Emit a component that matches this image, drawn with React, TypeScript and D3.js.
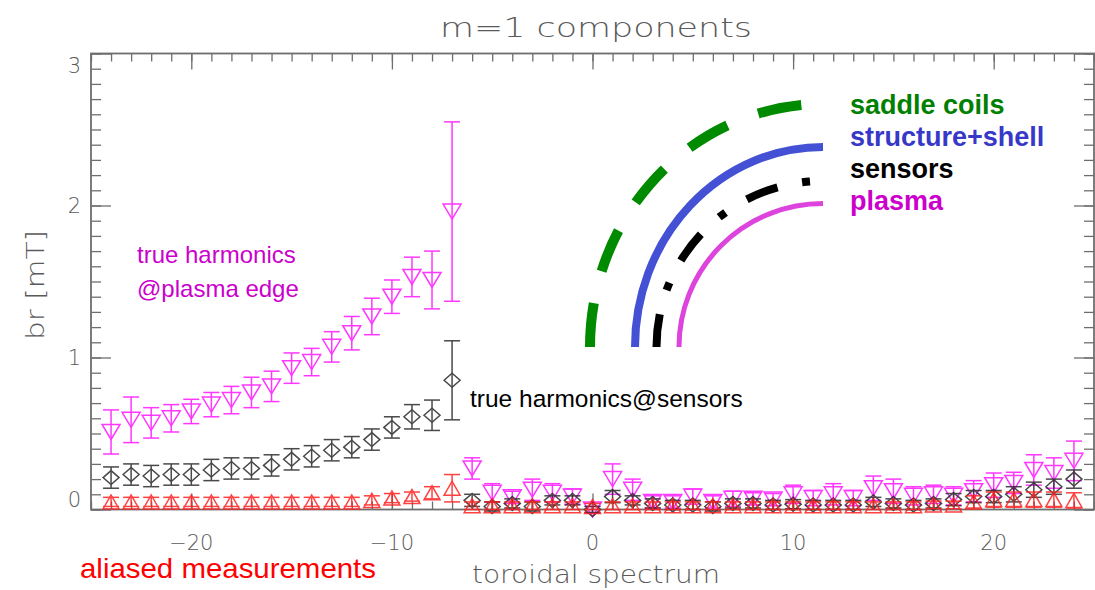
import React, { useEffect, useRef } from 'react'
import * as d3 from 'd3'

// toroidal mode numbers n
const harmonicN = [-24, -23, -22, -21, -20, -19, -18, -17, -16, -15, -14, -13, -12, -11, -10, -9, -8, -7,
  -6, -5, -4, -3, -2, -1, 0, 1, 2, 3, 4, 5, 6, 7, 8, 9, 10, 11, 12, 13, 14, 15, 16, 17, 18, 19, 20, 21, 22, 23, 24]

// true harmonics @ plasma edge (magenta, triangle down)
const plasmaBr = [0.51, 0.59, 0.57, 0.60, 0.645, 0.69, 0.72, 0.77, 0.81, 0.93, 0.97, 1.07, 1.16, 1.27, 1.40, 1.53, 1.51, 1.96,
  0.27, 0.11, 0.08, 0.13, 0.11, 0.085, 0.0, 0.20, 0.13, 0.05, 0.05, 0.085, 0.05, 0.07, 0.07, 0.065, 0.10, 0.075, 0.10, 0.075,
  0.14, 0.12, 0.09, 0.10, 0.09, 0.12, 0.16, 0.175, 0.26, 0.24, 0.32]
const plasmaErr = [0.145, 0.15, 0.1, 0.09, 0.08, 0.08, 0.09, 0.1, 0.1, 0.1, 0.09, 0.1, 0.11, 0.12, 0.11, 0.13, 0.19, 0.59,
  0.07, 0.06, 0.04, 0.07, 0.06, 0.05, 0.02, 0.1, 0.07, 0.04, 0.04, 0.05, 0.04, 0.05, 0.04, 0.04, 0.06, 0.05, 0.07, 0.05,
  0.08, 0.08, 0.06, 0.06, 0.06, 0.07, 0.08, 0.07, 0.1, 0.1, 0.13]

// true harmonics @ sensors (black, diamond)
const sensorBr = [0.21, 0.23, 0.22, 0.23, 0.23, 0.26, 0.27, 0.27, 0.29, 0.33, 0.35, 0.39, 0.41, 0.46, 0.54, 0.61, 0.62, 0.85,
  0.06, 0.02, 0.04, 0.02, 0.06, 0.06, 0.0, 0.085, 0.06, 0.04, 0.03, 0.03, 0.02, 0.04, 0.04, 0.03, 0.035, 0.03, 0.03, 0.03,
  0.05, 0.04, 0.03, 0.04, 0.065, 0.085, 0.085, 0.10, 0.13, 0.15, 0.20]
const sensorErr = [0.07, 0.07, 0.07, 0.07, 0.07, 0.07, 0.07, 0.07, 0.07, 0.07, 0.07, 0.07, 0.07, 0.07, 0.07, 0.08, 0.1, 0.26,
  0.04, 0.03, 0.03, 0.03, 0.03, 0.03, 0.02, 0.04, 0.03, 0.03, 0.03, 0.03, 0.03, 0.03, 0.03, 0.03, 0.03, 0.03, 0.03, 0.03,
  0.03, 0.03, 0.03, 0.03, 0.04, 0.04, 0.04, 0.05, 0.05, 0.05, 0.06]

// aliased measurements (red, triangle up)
const aliasBr = [0.05, 0.05, 0.05, 0.05, 0.05, 0.05, 0.05, 0.05, 0.05, 0.05, 0.05, 0.05, 0.05, 0.06, 0.075, 0.085, 0.11, 0.14,
  0.025, 0.025, 0.025, 0.025, 0.025, 0.025, 0.02, 0.025, 0.025, 0.025, 0.025, 0.025, 0.025, 0.025, 0.025, 0.025, 0.025, 0.025, 0.025, 0.025,
  0.025, 0.025, 0.025, 0.03, 0.03, 0.05, 0.065, 0.065, 0.065, 0.065, 0.06]
const aliasErr = [0.03, 0.03, 0.03, 0.03, 0.03, 0.03, 0.03, 0.03, 0.03, 0.03, 0.03, 0.03, 0.03, 0.03, 0.03, 0.03, 0.04, 0.09,
  0.025, 0.025, 0.025, 0.025, 0.025, 0.025, 0.02, 0.025, 0.025, 0.025, 0.025, 0.025, 0.025, 0.025, 0.025, 0.025, 0.025, 0.025, 0.025, 0.025,
  0.025, 0.025, 0.025, 0.025, 0.025, 0.04, 0.05, 0.05, 0.05, 0.05, 0.05]

const xTickValues = [-20, -10, 0, 10, 20]
const xTickLabels = ['\u221220', '\u221210', '0', '10', '20']
const yTickValues = [0, 1, 2, 3]
const yTickLabels = ['0', '1', '2', '3']

const legendNames = ['saddle coils', 'structure+shell', 'sensors', 'plasma']

export default function App() {
  const ref = useRef<SVGSVGElement>(null)

  useEffect(() => {
    const svg = d3.select(ref.current)
    svg.selectAll('*').remove()

    const left = 91, right = 1094, top = 53.5, bottom = 509.5
    const x = d3.scaleLinear().domain([-25, 25]).range([left, right])
    const y = d3.scaleLinear().domain([0, 3]).range([bottom, top])

    const axisColor = '#6e6e6e'
    const idlFont = "'DejaVu Sans', sans-serif"
    const arial = "'Liberation Sans', Arial, sans-serif"

    // ticks (IDL style, on all four sides)
    const minorX = d3.range(-25, 26)
    const minorY = d3.range(0, 31).map(i => i / 10)

    const addAxis = (axis, tx, ty) => {
      svg.append('g')
        .attr('transform', `translate(${tx},${ty})`)
        .call(axis)
        .call(g => g.select('.domain').remove())
        .call(g => g.selectAll('line').attr('stroke', axisColor).attr('stroke-width', 1.3))
        .call(g => g.selectAll('text').remove())
    }
    addAxis(d3.axisLeft(y).tickValues(minorY).tickSize(-10), left, 0)
    addAxis(d3.axisLeft(y).tickValues(yTickValues).tickSize(-20), left, 0)
    addAxis(d3.axisRight(y).tickValues(minorY).tickSize(-10), right, 0)
    addAxis(d3.axisRight(y).tickValues(yTickValues).tickSize(-20), right, 0)
    addAxis(d3.axisTop(x).tickValues(minorX).tickSize(-8), 0, top)
    addAxis(d3.axisTop(x).tickValues(xTickValues).tickSize(-16), 0, top)
    addAxis(d3.axisBottom(x).tickValues(minorX).tickSize(-8), 0, bottom)
    addAxis(d3.axisBottom(x).tickValues(xTickValues).tickSize(-16), 0, bottom)

    svg.append('rect')
      .attr('x', left).attr('y', top)
      .attr('width', right - left).attr('height', bottom - top)
      .attr('fill', 'none').attr('stroke', axisColor).attr('stroke-width', 1.8)

    // tick labels
    svg.append('g').selectAll('text')
      .data(yTickValues)
      .enter().append('text')
      .attr('x', 81)
      .attr('y', d => Math.min(Math.max(y(d), top + 12), bottom - 10))
      .attr('dy', '0.36em')
      .attr('text-anchor', 'end')
      .style('font-family', idlFont).style('font-weight', 200)
      .style('font-size', '21px').style('fill', '#5a5a5a')
      .text((d, i) => yTickLabels[i])

    svg.append('g').selectAll('text')
      .data(xTickValues)
      .enter().append('text')
      .attr('x', d => x(d))
      .attr('y', 550)
      .attr('text-anchor', 'middle')
      .style('font-family', idlFont).style('font-weight', 200)
      .style('font-size', '21px').style('fill', '#5a5a5a')
      .text((d, i) => xTickLabels[i])

    // titles
    svg.append('text')
      .attr('x', 440).attr('y', 37)
      .attr('textLength', 312).attr('lengthAdjust', 'spacingAndGlyphs')
      .style('font-family', idlFont).style('font-weight', 200)
      .style('font-size', '27px').style('fill', '#5a5a5a')
      .text('m=1  components')

    svg.append('text')
      .attr('x', 472).attr('y', 583)
      .attr('textLength', 248).attr('lengthAdjust', 'spacingAndGlyphs')
      .style('font-family', idlFont).style('font-weight', 200)
      .style('font-size', '24px').style('fill', '#5a5a5a')
      .text('toroidal spectrum')

    svg.append('text')
      .attr('transform', 'translate(44,285) rotate(-90)')
      .attr('text-anchor', 'middle')
      .attr('textLength', 110).attr('lengthAdjust', 'spacingAndGlyphs')
      .style('font-family', idlFont).style('font-weight', 200)
      .style('font-size', '24px').style('fill', '#5a5a5a')
      .text('br  [mT]')

    // series: error bars + symbols
    const triDown = (cx, cy) => `M${cx - 9},${cy - 7.5}L${cx + 9},${cy - 7.5}L${cx},${cy + 7.5}Z`
    const triUp = (cx, cy) => `M${cx - 8},${cy + 7}L${cx + 8},${cy + 7}L${cx},${cy - 7}Z`
    const diamond = (cx, cy) => `M${cx - 8},${cy}L${cx},${cy - 7}L${cx + 8},${cy}L${cx},${cy + 7}Z`

    const drawSeries = (vals, errs, color, symbol, opacity) => {
      const g = svg.append('g')
        .attr('fill', 'none')
        .attr('stroke', color)
        .attr('stroke-width', 1.5)
        .attr('opacity', opacity)
      harmonicN.forEach((n, i) => {
        const px = x(n)
        const y0 = y(vals[i] - errs[i]), y1 = y(vals[i] + errs[i])
        g.append('line').attr('x1', px).attr('x2', px).attr('y1', y0).attr('y2', y1)
        g.append('line').attr('x1', px - 8).attr('x2', px + 8).attr('y1', y0).attr('y2', y0)
        g.append('line').attr('x1', px - 8).attr('x2', px + 8).attr('y1', y1).attr('y2', y1)
        g.append('path').attr('d', symbol(px, y(vals[i])))
      })
    }
    drawSeries(plasmaBr, plasmaErr, '#ff22ff', triDown, 0.9)
    drawSeries(sensorBr, sensorErr, '#2a2a2a', diamond, 0.85)
    drawSeries(aliasBr, aliasErr, '#ff2020', triUp, 0.85)

    // annotations
    const note = (tx, ty, txt, color, size) =>
      svg.append('text').attr('x', tx).attr('y', ty)
        .style('font-family', arial).style('font-size', size + 'px')
        .style('fill', color).text(txt)
    note(137, 263, 'true harmonics', '#cc00cc', 24)
    note(137, 297, '@plasma edge', '#cc00cc', 24)
    note(470, 407, 'true harmonics@sensors', '#000000', 24.5)
    note(80, 578, 'aliased measurements', '#ff0000', 28)
      .attr('textLength', 296).attr('lengthAdjust', 'spacingAndGlyphs')

    // legend: quarter arcs with a common centre
    const cx = 823, cy = 347
    const arcs = [
      { rx: 233, ry: 243, color: '#008a00', w: 10, dash: '44 33' },
      { rx: 188, ry: 200, color: '#4451d4', w: 8, dash: null },
      { rx: 166.5, ry: 166, color: '#000000', w: 8, dash: '33 25 8 25' },
      { rx: 144, ry: 143.5, color: '#dd44dd', w: 5, dash: null },
    ]
    svg.append('g').selectAll('path')
      .data(arcs)
      .enter().append('path')
      .attr('d', d => `M${cx - d.rx},${cy} A${d.rx},${d.ry} 0 0 1 ${cx},${cy - d.ry}`)
      .attr('fill', 'none')
      .attr('stroke', d => d.color)
      .attr('stroke-width', d => d.w)
      .attr('stroke-dasharray', d => d.dash)

    const legendColors = ['#008000', '#3838c8', '#000000', '#cc00cc']
    svg.append('g').selectAll('text')
      .data(legendNames)
      .enter().append('text')
      .attr('x', 850)
      .attr('y', (d, i) => 114 + i * 32)
      .style('font-family', arial).style('font-weight', 'bold')
      .style('font-size', '27px')
      .style('fill', (d, i) => legendColors[i])
      .text(d => d)
  }, [])

  return (
    <svg ref={ref} width={1095} height={590}
      style={{ position: 'absolute', left: 0, top: 0, background: '#fff' }} />
  )
}
